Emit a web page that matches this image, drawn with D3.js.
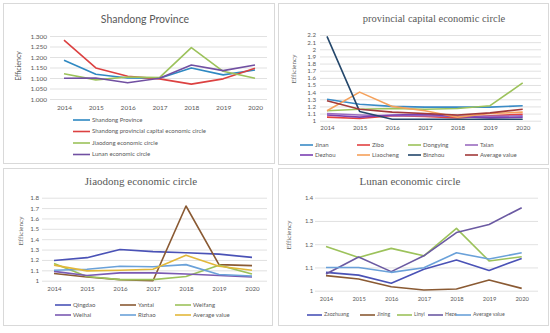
<!DOCTYPE html>
<html>
<head>
<meta charset="utf-8">
<script src="https://cdn.jsdelivr.net/npm/d3@7"></script>
<style>
	body { margin: 0; background: #fff; }
	svg { display: block; }
</style>
</head>
<body>
<svg id="chart"></svg>
<script>
// ---- data ----
const years = [ '2014', '2015', '2016', '2017', '2018', '2019', '2020' ] ;

// Shandong Province panel
const shandongProvince = [ 1.185, 1.118, 1.100, 1.099, 1.148, 1.115, 1.138 ] ;
const capitalCircle = [ 1.280, 1.148, 1.108, 1.096, 1.071, 1.096, 1.146 ] ;
const jiaodongCircle = [ 1.120, 1.091, 1.105, 1.102, 1.245, 1.132, 1.099 ] ;
const lunanCircle = [ 1.099, 1.100, 1.077, 1.099, 1.162, 1.135, 1.162 ] ;

// provincial capital economic circle panel
const jinan = [ 1.30, 1.23, 1.20, 1.19, 1.19, 1.19, 1.21 ] ;
const zibo = [ 1.05, 1.03, 1.07, 1.06, 1.04, 1.07, 1.09 ] ;
const dongying = [ 1.14, 1.16, 1.17, 1.16, 1.17, 1.21, 1.53 ] ;
const taian = [ 1.10, 1.08, 1.07, 1.07, 1.06, 1.06, 1.07 ] ;
const dezhou = [ 1.08, 1.05, 1.08, 1.09, 1.06, 1.04, 1.05 ] ;
const liaocheng = [ 1.14, 1.40, 1.20, 1.14, 1.05, 1.10, 1.12 ] ;
const binzhou = [ 2.18, 1.13, 1.02, 1.02, 1.02, 1.02, 1.02 ] ;
const capitalAverage = [ 1.28, 1.16, 1.12, 1.10, 1.08, 1.11, 1.16 ] ;

// Jiaodong economic circle panel
const qingdao = [ 1.195, 1.222, 1.300, 1.280, 1.270, 1.256, 1.225 ] ;
const yantai = [ 1.070, 1.035, 1.010, 1.000, 1.720, 1.155, 1.145 ] ;
const weifang = [ 1.165, 1.040, 1.010, 1.010, 1.040, 1.150, 1.065 ] ;
const weihai = [ 1.090, 1.050, 1.075, 1.075, 1.065, 1.050, 1.035 ] ;
const rizhao = [ 1.100, 1.110, 1.140, 1.135, 1.155, 1.060, 1.045 ] ;
const jiaodongAverage = [ 1.150, 1.095, 1.100, 1.110, 1.245, 1.140, 1.100 ] ;

// Lunan economic circle panel
const zaozhuang = [ 1.079, 1.067, 1.032, 1.092, 1.132, 1.087, 1.139 ] ;
const jining = [ 1.065, 1.050, 1.017, 1.003, 1.007, 1.046, 1.010 ] ;
const linyi = [ 1.190, 1.143, 1.182, 1.150, 1.268, 1.128, 1.146 ] ;
const heze = [ 1.072, 1.145, 1.082, 1.150, 1.250, 1.285, 1.357 ] ;
const lunanAverage = [ 1.100, 1.100, 1.079, 1.099, 1.163, 1.136, 1.163 ] ;

const ticksP1 = [ 1.0, 1.05, 1.1, 1.15, 1.2, 1.25, 1.3 ] ;
const ticksP2 = [ 1.0, 1.1, 1.2, 1.3, 1.4, 1.5, 1.6, 1.7, 1.8, 1.9, 2.0, 2.1, 2.2 ] ;
const ticksP3 = [ 1.0, 1.1, 1.2, 1.3, 1.4, 1.5, 1.6, 1.7, 1.8 ] ;
const ticksP4 = [ 1.0, 1.1, 1.2, 1.3, 1.4 ] ;

const sans = 'Lato, "Open Sans", sans-serif' ;
const serif = '"Liberation Serif", "DejaVu Serif", serif' ;

const panels = [
	{
		box: [ 3, 3, 274, 163 ],
		title: 'Shandong Province', titleFont: sans, titleSize: 10.5, titleXY: [ 145, 20 ],
		yTitleXY: [ 19, 66 ], yTitleFont: sans,
		xRange: [ 64, 255 ], yRange: [ 99, 36 ], yDomain: [ 1.0, 1.3 ],
		grid: [ 50, 267 ], tickX: 47, xLabelY: 108, tickSize: 6.5,
		ticks: ticksP1, tickFmt: d3.format( '.3f' ),
		series: [
			{ name: 'Shandong Province', values: shandongProvince, color: '#2f89c2' },
			{ name: 'Shandong provincial capital economic circle', values: capitalCircle, color: '#dc4141' },
			{ name: 'Jiaodong economic circle', values: jiaodongCircle, color: '#9cc25b' },
			{ name: 'Lunan economic circle', values: lunanCircle, color: '#7150a2' }
		],
		legend: [ [ 73, 120 ], [ 73, 131.5 ], [ 73, 143 ], [ 73, 154.5 ] ], legendLine: 17, legendSize: 6
	},
	{
		box: [ 278, 3, 548, 164 ],
		title: 'provincial capital economic circle', titleFont: serif, titleSize: 10.5, titleXY: [ 434, 20 ],
		yTitleXY: [ 294, 69 ], yTitleFont: serif,
		xRange: [ 327, 522.7 ], yRange: [ 120.7, 35 ], yDomain: [ 1.0, 2.2 ],
		grid: [ 320, 541 ], tickX: 316, xLabelY: 129, tickSize: 6.2,
		ticks: ticksP2, tickFmt: d => String( +d.toFixed(1) ),
		series: [
			{ name: 'Jinan', values: jinan, color: '#3a8bc6' },
			{ name: 'Zibo', values: zibo, color: '#e24242' },
			{ name: 'Dongying', values: dongying, color: '#9cc25b' },
			{ name: 'Taian', values: taian, color: '#9a6cc0' },
			{ name: 'Dezhou', values: dezhou, color: '#7b3fb2' },
			{ name: 'Liaocheng', values: liaocheng, color: '#f5a15b' },
			{ name: 'Binzhou', values: binzhou, color: '#24476b' },
			{ name: 'Average value', values: capitalAverage, color: '#a23a3a' }
		],
		legend: [ [ 300, 145 ], [ 357, 145 ], [ 408, 145 ], [ 465, 145 ],
			[ 300, 155 ], [ 357, 155 ], [ 408, 155 ], [ 465, 155 ] ], legendLine: 13, legendSize: 6
	},
	{
		box: [ 3, 168, 272, 325 ],
		title: 'Jiaodong economic circle', titleFont: serif, titleSize: 11, titleXY: [ 141, 182 ],
		yTitleXY: [ 21, 231 ], yTitleFont: serif,
		xRange: [ 54, 252 ], yRange: [ 280.7, 197.7 ], yDomain: [ 1.0, 1.8 ],
		grid: [ 42, 267 ], tickX: 39, xLabelY: 290, tickSize: 6.2,
		ticks: ticksP3, tickFmt: d => String( +d.toFixed(1) ),
		series: [
			{ name: 'Qingdao', values: qingdao, color: '#4a52b6' },
			{ name: 'Yantai', values: yantai, color: '#8a5a33' },
			{ name: 'Weifang', values: weifang, color: '#9cc25b' },
			{ name: 'Weihai', values: weihai, color: '#7a5ab2' },
			{ name: 'Rizhao', values: rizhao, color: '#6aa1d9' },
			{ name: 'Average value', values: jiaodongAverage, color: '#e2b83a' }
		],
		legend: [ [ 55, 305 ], [ 120, 305 ], [ 175, 305 ],
			[ 55, 315 ], [ 120, 315 ], [ 175, 315 ] ], legendLine: 16, legendSize: 6
	},
	{
		box: [ 278, 168, 548, 325 ],
		title: 'Lunan economic circle', titleFont: serif, titleSize: 11, titleXY: [ 410, 182 ],
		yTitleXY: [ 289, 235 ], yTitleFont: serif,
		xRange: [ 326, 521.7 ], yRange: [ 290.7, 197.7 ], yDomain: [ 1.0, 1.4 ],
		grid: [ 315, 538 ], tickX: 313, xLabelY: 300, tickSize: 5.8,
		ticks: ticksP4, tickFmt: d => String( +d.toFixed(1) ),
		series: [
			{ name: 'Zaozhuang', values: zaozhuang, color: '#4a52b6' },
			{ name: 'Jining', values: jining, color: '#8a5a33' },
			{ name: 'Linyi', values: linyi, color: '#9cc25b' },
			{ name: 'Heze', values: heze, color: '#6b5aa2' },
			{ name: 'Average value', values: lunanAverage, color: '#6aa1d9' }
		],
		legend: [ [ 307, 315 ], [ 360, 315 ], [ 397, 315 ], [ 428, 315 ], [ 456, 315 ] ], legendLine: 15, legendSize: 5.2
	}
] ;

const svg = d3.select( '#chart' )
	.attr( 'width', 550 )
	.attr( 'height', 333 ) ;

function drawPanel( p ) {
	let g = svg.append( 'g' ) ;
	let [ bx0, by0, bx1, by1 ] = p.box ;

	g.append( 'rect' )
		.attr( 'x', bx0 + 0.5 ).attr( 'y', by0 + 0.5 )
		.attr( 'width', bx1 - bx0 ).attr( 'height', by1 - by0 )
		.attr( 'fill', '#fff' )
		.attr( 'stroke', '#d9d9d9' ) ;

	let x = d3.scalePoint().domain( years ).range( p.xRange ) ;
	let y = d3.scaleLinear().domain( p.yDomain ).range( p.yRange ) ;

	// gridlines + y tick labels via axisLeft
	let yAxis = g.append( 'g' )
		.attr( 'transform', 'translate(' + p.grid[0] + ',0)' )
		.call( d3.axisLeft( y ).tickValues( p.ticks ).tickFormat( p.tickFmt )
			.tickSize( -(p.grid[1] - p.grid[0]) ).tickPadding( p.grid[0] - p.tickX ) ) ;
	yAxis.select( '.domain' ).remove() ;
	yAxis.selectAll( 'line' ).attr( 'stroke', '#d9d9d9' ).attr( 'stroke-width', 0.8 ) ;
	yAxis.selectAll( 'text' )
		.attr( 'fill', '#595959' )
		.attr( 'font-family', sans )
		.attr( 'font-size', p.tickSize ) ;

	// x labels via axisBottom
	let xAxis = g.append( 'g' )
		.attr( 'transform', 'translate(0,' + (p.xLabelY - 5) + ')' )
		.call( d3.axisBottom( x ).tickSize( 0 ).tickPadding( 2 ) ) ;
	xAxis.select( '.domain' ).remove() ;
	xAxis.selectAll( 'text' )
		.attr( 'fill', '#595959' )
		.attr( 'font-family', sans )
		.attr( 'font-size', p.tickSize ) ;

	let line = d3.line()
		.x( (v, i) => x( years[i] ) )
		.y( v => y( v ) ) ;

	g.selectAll( 'path.series' )
		.data( p.series )
		.enter()
		.append( 'path' )
		.attr( 'class', 'series' )
		.attr( 'd', s => line( s.values ) )
		.attr( 'fill', 'none' )
		.attr( 'stroke', s => s.color )
		.attr( 'stroke-width', 1.6 )
		.attr( 'stroke-linejoin', 'round' ) ;

	g.append( 'text' )
		.attr( 'x', p.titleXY[0] ).attr( 'y', p.titleXY[1] )
		.attr( 'text-anchor', 'middle' )
		.attr( 'dominant-baseline', 'middle' )
		.attr( 'font-family', p.titleFont )
		.attr( 'font-size', p.titleSize )
		.attr( 'fill', '#595959' )
		.text( p.title ) ;

	g.append( 'text' )
		.attr( 'transform', 'translate(' + p.yTitleXY[0] + ',' + p.yTitleXY[1] + ') rotate(-90)' )
		.attr( 'text-anchor', 'middle' )
		.attr( 'dominant-baseline', 'middle' )
		.attr( 'font-family', p.yTitleFont )
		.attr( 'font-size', 7 )
		.attr( 'fill', '#595959' )
		.text( 'Efficiency' ) ;

	let leg = g.selectAll( 'g.legend' )
		.data( p.series )
		.enter()
		.append( 'g' )
		.attr( 'class', 'legend' )
		.attr( 'transform', (s, i) => 'translate(' + p.legend[i][0] + ',' + p.legend[i][1] + ')' ) ;
	leg.append( 'line' )
		.attr( 'x1', 0 ).attr( 'x2', p.legendLine )
		.attr( 'stroke', s => s.color )
		.attr( 'stroke-width', 1.6 ) ;
	leg.append( 'text' )
		.attr( 'x', p.legendLine + 2 )
		.attr( 'dominant-baseline', 'middle' )
		.attr( 'font-family', sans )
		.attr( 'font-size', p.legendSize )
		.attr( 'fill', '#595959' )
		.text( s => s.name ) ;
}

panels.forEach( drawPanel ) ;
</script>
</body>
</html>
